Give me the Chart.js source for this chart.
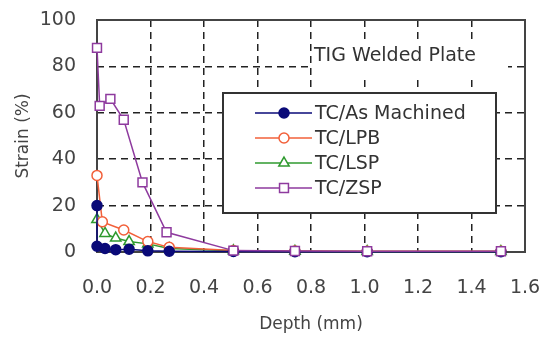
<!DOCTYPE html>
<html>
<head>
<meta charset="utf-8">
<script src="https://cdn.jsdelivr.net/npm/chart.js@4.4.0/dist/chart.umd.min.js"></script>
<style>
html, body { margin: 0; padding: 0; background: #fff; }
#wrap { width: 540px; height: 342px; }
</style>
</head>
<body>
<div id="wrap"><canvas id="strainChart"></canvas></div>
<script>
// depth (mm) / strain (%) pairs per surface treatment
const machinedDepth = [0.0, 0.0, 0.03, 0.07, 0.12, 0.19, 0.27, 0.51, 0.74, 1.01, 1.51];
const machinedStrain = [20, 2.5, 1.5, 1.0, 1.2, 0.5, 0.3, 0.2, 0.1, 0.1, 0.1];

const lpbDepth = [0.0, 0.02, 0.10, 0.19, 0.27, 0.51, 0.74, 1.01, 1.51];
const lpbStrain = [33, 13, 9.5, 4.5, 2.0, 0.6, 0.4, 0.3, 0.3];

const lspDepth = [0.0, 0.03, 0.07, 0.12, 0.19, 0.27, 0.51, 0.74, 1.01, 1.51];
const lspStrain = [14, 8, 6, 4.5, 3.5, 1.5, 0.5, 0.3, 0.2, 0.2];

const zspDepth = [0.0, 0.01, 0.05, 0.10, 0.17, 0.26, 0.51, 0.74, 1.01, 1.51];
const zspStrain = [88, 63, 66, 57, 30, 8.5, 0.6, 0.4, 0.3, 0.3];

const seriesNames = ["TC/As Machined", "TC/LPB", "TC/LSP", "TC/ZSP"];
const plateLabel = "TIG Welded Plate";

const FONT = '"DejaVu Sans", sans-serif';

function pairs(xs, ys) {
    return xs.map((x, i) => ({x: x, y: ys[i]}));
}

function series(name, xs, ys, color, style, fill, radius, order) {
    return {
        label: name,
        data: pairs(xs, ys),
        borderColor: color,
        backgroundColor: fill,
        borderWidth: 1.5,
        pointStyle: style,
        pointRadius: radius,
        pointBorderWidth: 1.5,
        pointBorderColor: color,
        pointBackgroundColor: fill,
        tension: 0,
        clip: false,
        order: order
    };
}

// boxed legend + plate caption inside the plot area, plus the plot frame
const insetLegend = {
    id: 'insetLegend',
    beforeDatasetsDraw(chart) {
        const ctx = chart.ctx;
        const a = chart.chartArea;
        ctx.save();

        ctx.fillStyle = '#fff';
        ctx.fillRect(a.left + 215, a.top + 20, 196, 40);
        ctx.font = '19px ' + FONT;
        ctx.fillStyle = '#333';
        ctx.textBaseline = 'middle';
        ctx.fillText(plateLabel, a.left + 217, a.top + 36);

        const bx = a.left + 126, by = a.top + 73, bw = 273, bh = 120;
        ctx.fillStyle = '#fff';
        ctx.fillRect(bx, by, bw, bh);
        ctx.lineWidth = 2;
        ctx.strokeStyle = '#333';
        ctx.strokeRect(bx, by, bw, bh);

        chart.data.datasets.forEach((ds, i) => {
            const y = by + 20 + i * 25;
            ctx.strokeStyle = ds.borderColor;
            ctx.lineWidth = 1.5;
            ctx.beginPath();
            ctx.moveTo(bx + 32, y);
            ctx.lineTo(bx + 89, y);
            ctx.stroke();
            ctx.fillStyle = ds.pointBackgroundColor;
            ctx.strokeStyle = ds.pointBorderColor;
            Chart.helpers.drawPoint(ctx, {
                pointStyle: ds.pointStyle,
                radius: ds.pointRadius,
                borderWidth: 1.5,
                rotation: 0
            }, bx + 61, y);
            ctx.fillStyle = '#333';
            ctx.font = '19px ' + FONT;
            ctx.fillText(ds.label, bx + 92, y + 1);
        });

        ctx.lineWidth = 2;
        ctx.strokeStyle = '#444';
        ctx.strokeRect(a.left, a.top, a.right - a.left, a.bottom - a.top);
        ctx.restore();
    }
};

function gridColor(c) {
    const n = c.scale.ticks.length;
    return (c.index === 0 || c.index === n - 1) ? 'rgba(0,0,0,0)' : '#222';
}

new Chart(document.getElementById('strainChart'), {
    type: 'line',
    data: {
        datasets: [
            series(seriesNames[0], machinedDepth, machinedStrain, '#0a0a78', 'circle', '#0a0a78', 5, 2),
            series(seriesNames[1], lpbDepth, lpbStrain, '#f2603a', 'circle', '#fff', 5, 3),
            series(seriesNames[2], lspDepth, lspStrain, '#2f9a2f', 'triangle', '#fff', 6, 4),
            series(seriesNames[3], zspDepth, zspStrain, '#8e3a9e', 'rect', '#fff', 6.3, 1)
        ]
    },
    options: {
        responsive: true,
        maintainAspectRatio: false,
        animation: false,
        layout: { padding: { left: 0, top: 20, right: 15, bottom: 0 } },
        plugins: {
            legend: { display: false },
            tooltip: { enabled: false }
        },
        scales: {
            x: {
                type: 'linear',
                min: 0,
                max: 1.6,
                afterFit: (s) => { s.height = 90; s.paddingLeft = 0; s.paddingRight = 0; },
                ticks: {
                    stepSize: 0.2,
                    padding: 25,
                    color: '#444',
                    font: { family: FONT, size: 19 },
                    callback: (v) => v.toFixed(1)
                },
                grid: { color: gridColor, lineWidth: 1.5, drawTicks: false },
                border: { display: false, dash: [7, 5] },
                title: {
                    display: true,
                    text: 'Depth (mm)',
                    color: '#444',
                    font: { family: FONT, size: 17 },
                    padding: { top: 0, bottom: 7 }
                }
            },
            y: {
                min: 0,
                max: 100,
                afterFit: (s) => { s.width = 97; s.paddingTop = 0; s.paddingBottom = 0; },
                ticks: {
                    stepSize: 20,
                    padding: 21,
                    color: '#444',
                    font: { family: FONT, size: 19 }
                },
                grid: { color: gridColor, lineWidth: 1.5, drawTicks: false },
                border: { display: false, dash: [7, 5] },
                title: {
                    display: true,
                    text: 'Strain (%)',
                    color: '#444',
                    font: { family: FONT, size: 17 },
                    padding: { top: 13, bottom: 0 }
                }
            }
        }
    },
    plugins: [insetLegend]
});
</script>
</body>
</html>
